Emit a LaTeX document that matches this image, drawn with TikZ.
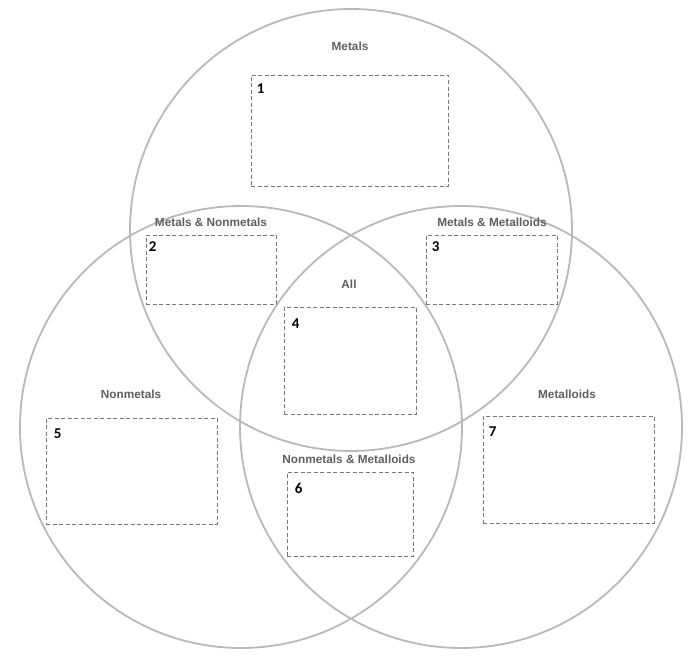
\documentclass[tikz,border=0pt]{standalone}
\usepackage{fontspec}
\setmainfont{Liberation Sans}
\newfontfamily\numfont{Carlito}
\usetikzlibrary{positioning}

\definecolor{ringgray}{RGB}{185,185,185}
\definecolor{boxgray}{RGB}{120,120,120}
\definecolor{labelgray}{RGB}{95,95,95}

\tikzset{
  ring/.style={draw=ringgray, line width=1.8pt},
  slot/.style={draw=boxgray, dash pattern=on 4pt off 2.5pt, line width=0.9pt, inner sep=0pt},
  setlabel/.style={font=\bfseries\fontsize{11.8}{14}\selectfont, text=labelgray, inner sep=0pt},
  slotnum/.style={font=\numfont\bfseries\fontsize{15}{17}\selectfont, inner sep=0pt, anchor=north west}
}

\begin{document}
\begin{tikzpicture}[x=1pt, y=-1pt]
    \useasboundingbox (0,0) rectangle (700,666);

    % Draw the three sets
    \draw[ring] (351,230) circle (221);
    \draw[ring] (241,427) circle (221);
    \draw[ring] (461,427) circle (221);

    % Set labels
    \node[setlabel] (metals) at (350,46) {Metals};
    \node[setlabel] (metnon) at (211,222) {Metals \& Nonmetals};
    \node[setlabel] (metmeta) at (492,222) {Metals \& Metalloids};
    \node[setlabel] (all) at (349,284) {All};
    \node[setlabel] (nonmetals) at (131,394) {Nonmetals};
    \node[setlabel] (nonmeta) at (349,459) {Nonmetals \& Metalloids};
    \node[setlabel] (metalloids) at (567,394) {Metalloids};

    % Answer boxes (centre, width, height in px)
    \node[slot, minimum width=197pt, minimum height=111pt] (box1) at (349.5,130.5) {};
    \node[slot, minimum width=130pt, minimum height=69pt] (box2) at (211,269.5) {};
    \node[slot, minimum width=131pt, minimum height=69pt] (box3) at (491.5,269.5) {};
    \node[slot, minimum width=132pt, minimum height=107pt] (box4) at (350,360.5) {};
    \node[slot, minimum width=171pt, minimum height=106pt] (box5) at (131.5,471) {};
    \node[slot, minimum width=126pt, minimum height=84pt] (box6) at (350,514) {};
    \node[slot, minimum width=171pt, minimum height=107pt] (box7) at (568.5,469.5) {};

    % Numbers in the box corners
    \node[slotnum] (n1) at ([xshift=6pt, yshift=-9pt]box1.north west) {1};
    \node[slotnum] (n2) at ([xshift=3pt, yshift=-7pt]box2.north west) {2};
    \node[slotnum] (n3) at ([xshift=6pt, yshift=-7pt]box3.north west) {3};
    \node[slotnum] (n4) at ([xshift=8pt, yshift=-12pt]box4.north west) {4};
    \node[slotnum] (n5) at ([xshift=8pt, yshift=-11pt]box5.north west) {5};
    \node[slotnum] (n6) at ([xshift=8pt, yshift=-12pt]box6.north west) {6};
    \node[slotnum] (n7) at ([xshift=6pt, yshift=-11pt]box7.north west) {7};
\end{tikzpicture}
\end{document}
